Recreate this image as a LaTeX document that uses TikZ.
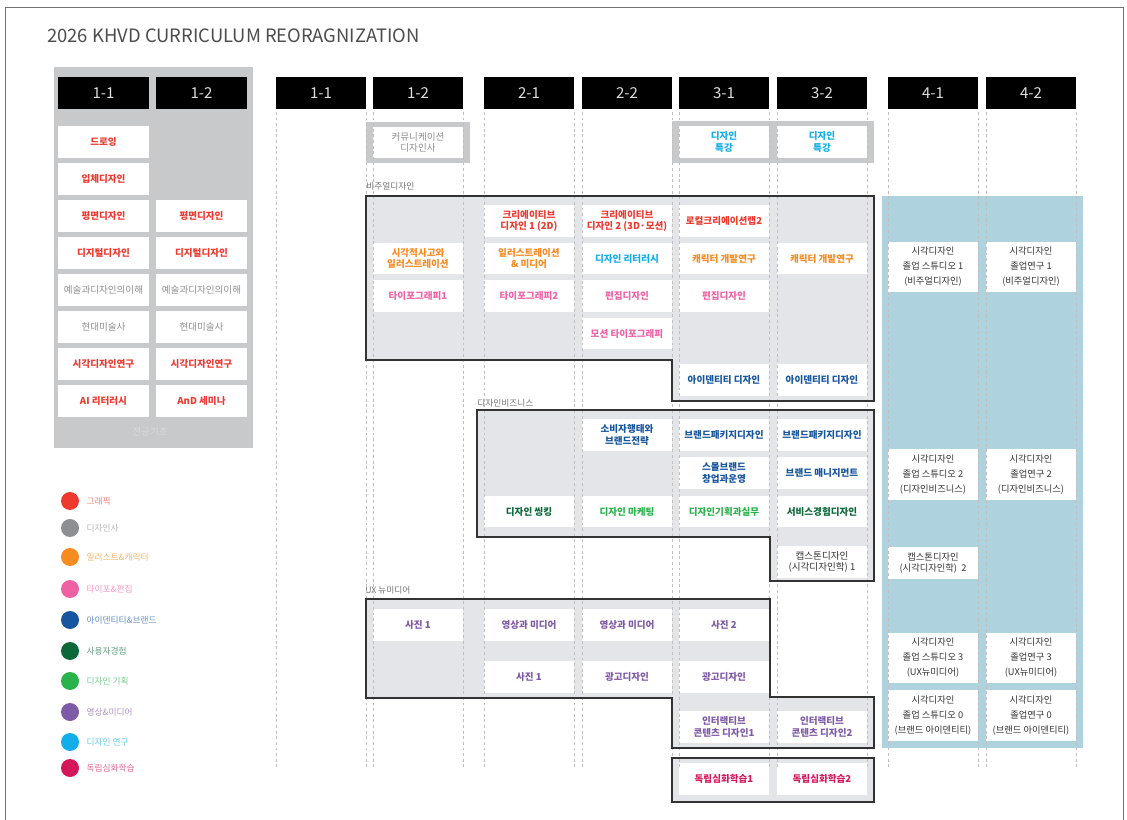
\documentclass[tikz,border=0pt]{standalone}
\usepackage{fontspec}
\setmainfont{Noto Sans CJK KR}
\usetikzlibrary{positioning}
\definecolor{graphic}{HTML}{EE3A2E}
\definecolor{history}{HTML}{8E8F92}
\definecolor{illust}{HTML}{F68B1F}
\definecolor{typo}{HTML}{EE62A4}
\definecolor{brand}{HTML}{17559E}
\definecolor{uxgreen}{HTML}{0B6838}
\definecolor{plan}{HTML}{2BB34B}
\definecolor{media}{HTML}{7F5AA6}
\definecolor{research}{HTML}{12AEEA}
\definecolor{indep}{HTML}{D5165A}
\definecolor{panelgrey}{HTML}{C8C9CB}
\definecolor{groupgrey}{HTML}{E3E5E8}
\definecolor{yearfour}{HTML}{AED3DE}

\begin{document}
\begin{tikzpicture}[x=0.025cm,y=-0.025cm]

\tikzset{cell/.style={fill=white,inner sep=0pt,minimum width=2.26cm,minimum height=0.79cm,align=center,font=\fontsize{6.8}{8.3}\selectfont\bfseries},
lightcell/.style={cell,font=\fontsize{6.8}{8.3}\selectfont},
tallcell/.style={cell,minimum height=1.25cm,text=black!80,font=\fontsize{6.6}{10.7}\selectfont},
head/.style={fill=black,text=black!12,minimum width=2.26cm,minimum height=0.8cm,inner sep=0pt,font=\fontsize{10.7}{12}\selectfont},
groupfill/.style={fill=groupgrey},
groupline/.style={draw=black!80,line width=1.2pt},
grouplabel/.style={anchor=west,text=black!55,inner sep=0pt,font=\fontsize{6.2}{7}\selectfont},
colline/.style={draw=black!25,dash pattern=on 2pt off 2pt,line width=0.5pt},
dot/.style={circle,minimum size=0.45cm,inner sep=0pt},
legend/.style={inner sep=0pt,font=\fontsize{6.2}{7}\selectfont}}

\useasboundingbox (0,0) rectangle (1127,820);

% Frame and title
\draw[black!55,line width=0.6pt] (5,830) -- (5,7) -- (1123,7) -- (1123,830);
\node[anchor=base west,inner sep=0pt,text=black!70,font=\fontsize{13.1}{15}\selectfont] (title) at (47,43) {2026 KHVD CURRICULUM REORAGNIZATION};

% Foundation panel
\fill[panelgrey] (54,67) rectangle (253,448);
\node[head] (p1) at (103.5,93) {1-1}; \node[head] (p2) at (201.5,93) {1-2};
\node[cell,text=graphic] (f1a) at (103.5,142) {드로잉};
\node[cell,text=graphic] (f1b) at (103.5,179) {입체디자인};
\node[cell,text=graphic] (f1c) at (103.5,216) {평면디자인};
\node[cell,text=graphic] (f1d) at (103.5,253) {디지털디자인};
\node[lightcell,text=history] (f1e) at (103.5,290) {예술과디자인의이해};
\node[lightcell,text=history] (f1f) at (103.5,327) {현대미술사};
\node[cell,text=graphic] (f1g) at (103.5,364) {시각디자인연구};
\node[cell,text=graphic] (f1h) at (103.5,401) {AI 리터러시};
\node[cell,text=graphic] (f2c) at (201.5,216) {평면디자인};
\node[cell,text=graphic] (f2d) at (201.5,253) {디지털디자인};
\node[lightcell,text=history] (f2e) at (201.5,290) {예술과디자인의이해};
\node[lightcell,text=history] (f2f) at (201.5,327) {현대미술사};
\node[cell,text=graphic] (f2g) at (201.5,364) {시각디자인연구};
\node[cell,text=graphic] (f2h) at (201.5,401) {AnD 세미나};
\node[text=white!85!black,inner sep=0pt,font=\fontsize{6.8}{8}\selectfont] (base) at (150,432) {전공기초};

% Semester headers
\foreach \x/\t [count=\i] in {321/1-1,418/1-2,529/2-1,627/2-2,724/3-1,822/3-2,933/4-1,1031/4-2}
  \node[head] (h\i) at (\x,93) {\t};

% Background areas
\fill[panelgrey] (366,122) rectangle (470,163);
\fill[panelgrey] (672,121) rectangle (874,163);
\fill[groupfill] (366,196) -- (874,196) -- (874,401) -- (672,401) -- (672,360) -- (366,360) -- cycle;
\fill[groupfill] (477,410) -- (874,410) -- (874,581) -- (770,581) -- (770,537) -- (477,537) -- cycle;
\fill[groupfill] (366,599) -- (770,599) -- (770,697) -- (874,697) -- (874,748) -- (672,748) -- (672,698) -- (366,698) -- cycle;
\fill[groupfill] (672,758) rectangle (874,802);
\fill[yearfour] (882,196) rectangle (1083,748);

% Group labels
\node[grouplabel] (lvis) at (366,186) {비주얼디자인};
\node[grouplabel] (lbiz) at (477,403) {디자인비즈니스};
\node[grouplabel] (lux) at (365,590) {UX 뉴미디어};

% Special courses
\node[lightcell,text=history] (comm) at (418,142.5) {커뮤니케이션\\디자인사};
\node[cell,text=research] (sp31) at (724,142) {디자인\\특강};
\node[cell,text=research] (sp32) at (822,142) {디자인\\특강};

% Visual design
\node[cell,text=graphic] (v21a) at (529,221) {크리에이티브\\디자인 1 (2D)};
\node[cell,text=graphic] (v22a) at (627,221) {크리에이티브\\디자인 2 (3D·모션)};
\node[cell,text=graphic] (v31a) at (724,221) {로컬크리에이션랩2};
\node[cell,text=illust] (v12b) at (418,258.5) {시각적사고와\\일러스트레이션};
\node[cell,text=illust] (v21b) at (529,258.5) {일러스트레이션\\\& 미디어};
\node[cell,text=research] (v22b) at (627,258.5) {디자인 리터러시};
\node[cell,text=illust] (v31b) at (724,258.5) {캐릭터 개발연구};
\node[cell,text=illust] (v32b) at (822,258.5) {캐릭터 개발연구};
\node[cell,text=typo] (v12c) at (418,296) {타이포그래피1};
\node[cell,text=typo] (v21c) at (529,296) {타이포그래피2};
\node[cell,text=typo] (v22c) at (627,296) {편집디자인};
\node[cell,text=typo] (v31c) at (724,296) {편집디자인};
\node[cell,text=typo] (v22d) at (627,333.5) {모션 타이포그래피};
\node[cell,text=brand] (v31e) at (724,380) {아이덴티티 디자인};
\node[cell,text=brand] (v32e) at (822,380) {아이덴티티 디자인};

% Design business
\node[cell,text=brand] (b22a) at (627,435) {소비자행태와\\브랜드전략};
\node[cell,text=brand] (b31a) at (724,435) {브랜드패키지디자인};
\node[cell,text=brand] (b32a) at (822,435) {브랜드패키지디자인};
\node[cell,text=brand] (b31b) at (724,473) {스몰브랜드\\창업과운영};
\node[cell,text=brand] (b32b) at (822,473) {브랜드 매니지먼트};
\node[cell,text=uxgreen] (b21c) at (529,511.5) {디자인 씽킹};
\node[cell,text=plan] (b22c) at (627,511.5) {디자인 마케팅};
\node[cell,text=plan] (b31c) at (724,511.5) {디자인기획과실무};
\node[cell,text=uxgreen] (b32c) at (822,511.5) {서비스경험디자인};
\node[lightcell,text=black!80] (b32d) at (822,562) {캡스톤디자인\\(시각디자인학) 1};

% UX new media
\node[cell,text=media] (u12a) at (418,625) {사진 1};
\node[cell,text=media] (u21a) at (529,625) {영상과 미디어};
\node[cell,text=media] (u22a) at (627,625) {영상과 미디어};
\node[cell,text=media] (u31a) at (724,625) {사진 2};
\node[cell,text=media] (u21b) at (529,677) {사진 1};
\node[cell,text=media] (u22b) at (627,677) {광고디자인};
\node[cell,text=media] (u31b) at (724,677) {광고디자인};
\node[cell,text=media] (u31c) at (724,727) {인터랙티브\\콘텐츠 디자인1};
\node[cell,text=media] (u32c) at (822,727) {인터랙티브\\콘텐츠 디자인2};

% Independent study
\node[cell,text=indep] (i31) at (724,779) {독립심화학습1};
\node[cell,text=indep] (i32) at (822,779) {독립심화학습2};

% Fourth year
\node[tallcell] (y41a) at (933,267) {시각디자인\\졸업 스튜디오 1\\(비주얼디자인)};
\node[tallcell] (y42a) at (1031,267) {시각디자인\\졸업연구 1\\(비주얼디자인)};
\node[tallcell] (y41b) at (933,474.5) {시각디자인\\졸업 스튜디오 2\\(디자인비즈니스)};
\node[tallcell] (y42b) at (1031,474.5) {시각디자인\\졸업연구 2\\(디자인비즈니스)};
\node[cell,text=black!80,font=\fontsize{6.6}{8.3}\selectfont] (y41c) at (933,563) {캡스톤디자인\\(시각디자인학)\ \ 2};
\node[tallcell] (y41d) at (933,658) {시각디자인\\졸업 스튜디오 3\\(UX뉴미디어)};
\node[tallcell] (y42d) at (1031,658) {시각디자인\\졸업연구 3\\(UX뉴미디어)};
\node[tallcell] (y41e) at (933,715.5) {시각디자인\\졸업 스튜디오 0\\(브랜드 아이덴티티)};
\node[tallcell] (y42e) at (1031,715.5) {시각디자인\\졸업연구 0\\(브랜드 아이덴티티)};

% Column guides
\foreach \x in {276,366,373,463,484,574,582,672,679,769,777,867,888,978,986,1076}
  \draw[colline] (\x,112) -- (\x,768);

% Group outlines
\draw[groupline] (366,196) -- (874,196) -- (874,401) -- (672,401) -- (672,360) -- (366,360) -- cycle;
\draw[groupline] (477,410) -- (874,410) -- (874,581) -- (770,581) -- (770,537) -- (477,537) -- cycle;
\draw[groupline] (366,599) -- (770,599) -- (770,697) -- (874,697) -- (874,748) -- (672,748) -- (672,698) -- (366,698) -- cycle;
\draw[groupline] (672,758) rectangle (874,802);

% Legend
\foreach \c/\t/\y [count=\i] in {graphic/그래픽/501,history/디자인사/528,illust/일러스트\&캐릭터/557,typo/타이포\&편집/589,brand/아이덴티티\&브랜드/620,uxgreen/사용자경험/651,plan/디자인 기획/681,media/영상\&미디어/712,research/디자인 연구/742,indep/독립심화학습/768} {
  \node[dot,fill=\c] (d\i) at (70,\y) {};
  \node[legend,text=\c!65,right=5pt of d\i] (l\i) {\t};
}

\end{tikzpicture}
\end{document}
